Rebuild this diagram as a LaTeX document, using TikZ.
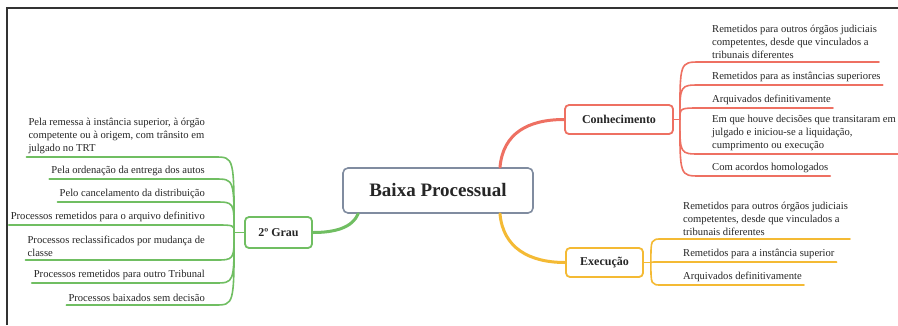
\documentclass[tikz,border=0pt]{standalone}
\usepackage{fontspec}
\setmainfont{Liberation Serif}
\definecolor{rootgray}{RGB}{128,140,160}
\definecolor{grau}{RGB}{112,190,98}
\definecolor{conhec}{RGB}{238,112,98}
\definecolor{exec}{RGB}{244,186,52}
\begin{document}
\begin{tikzpicture}[x=1pt, y=-1pt,
    root/.style ={draw=rootgray, rounded corners=5pt, line width=1.6pt, fill=white,
        minimum width=190pt, minimum height=45pt, text=black!85,
        font=\fontsize{19}{22}\selectfont\bfseries},
    topic/.style ={draw, rounded corners=4pt, line width=1.8pt, fill=white,
        minimum height=29pt, inner xsep=4pt, text=black!85,
        font=\fontsize{12}{14}\selectfont\bfseries},
    leaf/.style ={inner xsep=2pt, inner ysep=3pt, align=left, text=black!85,
        font=\fontsize{10.6}{13}\selectfont},
    branch/.style ={line width=3pt, line cap=round},
    twig/.style ={line width=1.6pt, line cap=round}]
   \fill[white] (0,0) rectangle (898,325);
   \useasboundingbox (0,0) rectangle (898,325);
   \draw[line width=1.5pt, black!80] (7,325) -- (7,8) -- (898,8);

   \node[root] (bp) at (438,190.5) {Baixa Processual};
   \node[topic, draw=grau, minimum width=67pt, minimum height=31pt] (grau) at (278.5,232.5) {2º Grau};
   \node[topic, draw=conhec, minimum width=108pt] (conh) at (619,119.5) {Conhecimento};
   \node[topic, draw=exec, minimum width=77pt] (exe) at (604.5,262.5) {Execução};

   \draw[branch, grau] ([xshift=16pt]bp.south west) .. controls +(-6,14) and +(22,0) .. (grau.east);
   \draw[branch, conhec] ([xshift=62pt]bp.north) .. controls +(3,-34) and +(-36,0) .. (conh.west);
   \draw[branch, exec] ([xshift=62pt]bp.south) .. controls +(3,34) and +(-36,0) .. (exe.west);

   \draw[twig, grau] (grau.west) -- ++(-10,0) coordinate (gj);
   \draw[twig, conhec] (conh.east) -- ++(6,0) coordinate (cj);
   \draw[twig, exec] (exe.east) -- ++(7,0) coordinate (ej);

   \node[leaf, anchor=south east] (g1) at (207,157) {Pela remessa à instância superior, à órgão\\competente ou à origem, com trânsito em\\julgado no TRT};
   \node[leaf, anchor=south east] (g2) at (207,179) {Pela ordenação da entrega dos autos};
   \node[leaf, anchor=south east] (g3) at (207,202) {Pelo cancelamento da distribuição};
   \node[leaf, anchor=south east] (g4) at (207,225) {Processos remetidos para o arquivo definitivo};
   \node[leaf, anchor=south east] (g5) at (207,260) {Processos reclassificados por mudança de\\classe};
   \node[leaf, anchor=south east] (g6) at (207,283) {Processos remetidos para outro Tribunal};
   \node[leaf, anchor=south east] (g7) at (207,305) {Processos baixados sem decisão};
   \foreach \g in {g1,g2,g3,g4,g5,g6,g7}
      \draw[twig, grau] (\g.south west) -- ([xshift=8pt]\g.south east) .. controls (gj |- \g.south east) .. (gj);

   \node[leaf, anchor=south west] (c1) at (710,62) {Remetidos para outros órgãos judiciais\\competentes, desde que vinculados a\\tribunais diferentes};
   \node[leaf, anchor=south west] (c2) at (710,85) {Remetidos para as instâncias superiores};
   \node[leaf, anchor=south west] (c3) at (710,108) {Arquivados definitivamente};
   \node[leaf, anchor=south west] (c4) at (710,154) {Em que houve decisões que transitaram em\\julgado e iniciou-se a liquidação,\\cumprimento ou execução};
   \node[leaf, anchor=south west] (c5) at (710,176) {Com acordos homologados};
   \foreach \c in {c1,c2,c3,c4,c5}
      \draw[twig, conhec] (cj) .. controls (cj |- \c.south west) .. ([xshift=-10pt]\c.south west) -- (\c.south east);

   \node[leaf, anchor=south west] (e1) at (681,239) {Remetidos para outros órgãos judiciais\\competentes, desde que vinculados a\\tribunais diferentes};
   \node[leaf, anchor=south west] (e2) at (681,262) {Remetidos para a instância superior};
   \node[leaf, anchor=south west] (e3) at (681,285) {Arquivados definitivamente};
   \foreach \e in {e1,e2,e3}
      \draw[twig, exec] (ej) .. controls (ej |- \e.south west) .. ([xshift=-19pt]\e.south west) -- (\e.south east);
 \end{tikzpicture}
\end{document}
